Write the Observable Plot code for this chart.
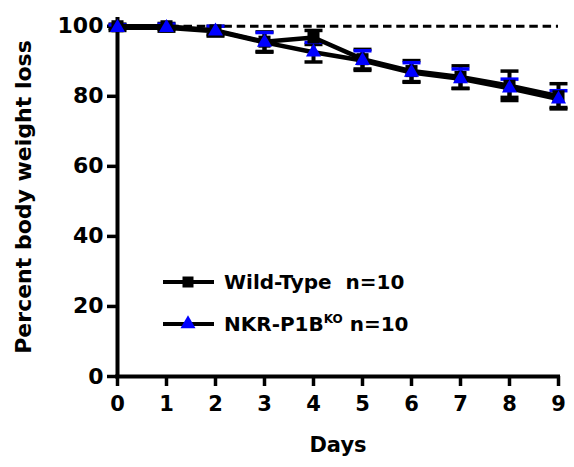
<!DOCTYPE html>
<html><head><meta charset="utf-8">
<script src="https://cdn.jsdelivr.net/npm/d3@7"></script>
<script src="https://cdn.jsdelivr.net/npm/@observablehq/plot@0.6"></script>
<style>
body{margin:0;background:#fff}
#wrap{position:relative;width:574px;height:467px}
#legend{position:absolute;left:0;top:0;pointer-events:none}
#legend text{white-space:pre}
</style>
</head><body><div id="wrap"></div>
<script>
const days = [0, 1, 2, 3, 4, 5, 6, 7, 8, 9];
const wtMean = [100, 100, 98.8, 95.6, 96.8, 90.6, 87.2, 85.5, 83.0, 80.0];
const wtErr = [0.6, 0.8, 1.2, 2.8, 2.0, 2.8, 3.0, 3.2, 4.2, 3.6];
const koMean = [99.6, 99.6, 98.6, 95.4, 92.6, 90.2, 86.8, 85.0, 82.3, 79.2];
const koErr = [0.8, 1.0, 1.4, 2.8, 2.8, 2.8, 2.8, 2.8, 2.6, 2.4];
const yTicks = [0, 20, 40, 60, 80, 100];
const xTicks = [0, 1, 2, 3, 4, 5, 6, 7, 8, 9];
const baseline = [100];
const seriesNames = ["Wild-Type  n=10", "NKR-P1B", "KO", " n=10"];

const rows = days.map((d, i) => ({day: d, wt: wtMean[i], wtE: wtErr[i], ko: koMean[i], koE: koErr[i]}));
const cap = {draw(ctx, size) { const w = Math.sqrt(size / Math.PI) * 1.5; ctx.moveTo(-w, 0); ctx.lineTo(w, 0); }};
const font = "DejaVu Sans";

const chart = Plot.plot({
  width: 574, height: 467,
  marginLeft: 117, marginRight: 16, marginTop: 17, marginBottom: 91,
  style: {fontFamily: font, background: "#fff", overflow: "visible", color: "#000"},
  x: {domain: [0, 9]},
  y: {domain: [0, 102.5]},
  marks: [
    Plot.ruleY(baseline, {stroke: "#000", strokeWidth: 3, strokeDasharray: "8.5,4.8"}),
    Plot.axisY({ticks: yTicks, tickSize: 10, tickPadding: 4, strokeWidth: 3.5, fontSize: 22, fontWeight: "bold",
      label: "Percent body weight loss", labelAnchor: "center", labelArrow: "none", labelOffset: 102}),
    Plot.axisX({ticks: xTicks, tickSize: 10, tickPadding: 10, strokeWidth: 3.5, fontSize: 21, fontWeight: "bold",
      label: "Days", labelAnchor: "center", labelArrow: "none", labelOffset: 75}),
    Plot.ruleX([0], {stroke: "#000", strokeWidth: 4}),
    Plot.ruleY([0], {stroke: "#000", strokeWidth: 4, strokeLinecap: "square"}),
    // Wild-type error bars
    Plot.ruleX(rows, {x: "day", y1: d => d.wt - d.wtE, y2: d => d.wt + d.wtE, stroke: "#000", strokeWidth: 4}),
    Plot.dot(rows, {x: "day", y: d => d.wt + d.wtE, symbol: cap, r: 6, fill: "none", stroke: "#000", strokeWidth: 3.5}),
    Plot.dot(rows, {x: "day", y: d => d.wt - d.wtE, symbol: cap, r: 6, fill: "none", stroke: "#000", strokeWidth: 3.5}),
    // KO error bars
    Plot.ruleX(rows, {x: "day", y1: d => d.ko - d.koE, y2: d => d.ko + d.koE, stroke: "#000", strokeWidth: 4}),
    Plot.dot(rows, {x: "day", y: d => d.ko + d.koE, symbol: cap, r: 6, fill: "none", stroke: "#0000ff", strokeWidth: 3.5}),
    Plot.dot(rows, {x: "day", y: d => d.ko - d.koE, symbol: cap, r: 6, fill: "none", stroke: "#000", strokeWidth: 3.5}),
    // lines
    Plot.line(rows, {x: "day", y: "wt", stroke: "#000", strokeWidth: 4.5}),
    Plot.line(rows, {x: "day", y: "ko", stroke: "#000", strokeWidth: 4.5}),
    // markers
    Plot.dot(rows, {x: "day", y: "wt", symbol: "square", r: 6.8, fill: "#000", stroke: "none"}),
    Plot.dot(rows, {x: "day", y: "ko", symbol: "triangle", r: 5.6, fill: "#0000ff", stroke: "none"})
  ]
});
document.getElementById("wrap").appendChild(chart);

// legend overlay
const lg = d3.select("#wrap").append("svg").attr("id", "legend").attr("width", 574).attr("height", 467)
  .style("font-family", font).style("font-weight", "bold");
const items = [
  {y: 282, sym: d3.symbol(d3.symbolSquare, 121)(), fill: "#000"},
  {y: 324, sym: d3.symbol(d3.symbolTriangle, 98)(), fill: "#0000ff"}
];
items.forEach((it) => {
  lg.append("line").attr("x1", 163).attr("x2", 214).attr("y1", it.y).attr("y2", it.y).attr("stroke", "#000").attr("stroke-width", 4);
  lg.append("path").attr("d", it.sym).attr("transform", `translate(188,${it.y})`).attr("fill", it.fill);
});
lg.append("text").attr("x", 224).attr("y", 289).attr("font-size", 20).attr("xml:space", "preserve").text(seriesNames[0]);
const t2 = lg.append("text").attr("x", 224).attr("y", 331).attr("font-size", 20).attr("xml:space", "preserve");
t2.append("tspan").text(seriesNames[1]);
t2.append("tspan").attr("font-size", 12).attr("dy", -8).text(seriesNames[2]);
t2.append("tspan").attr("dy", 8).text(seriesNames[3]);
</script>
</body></html>
